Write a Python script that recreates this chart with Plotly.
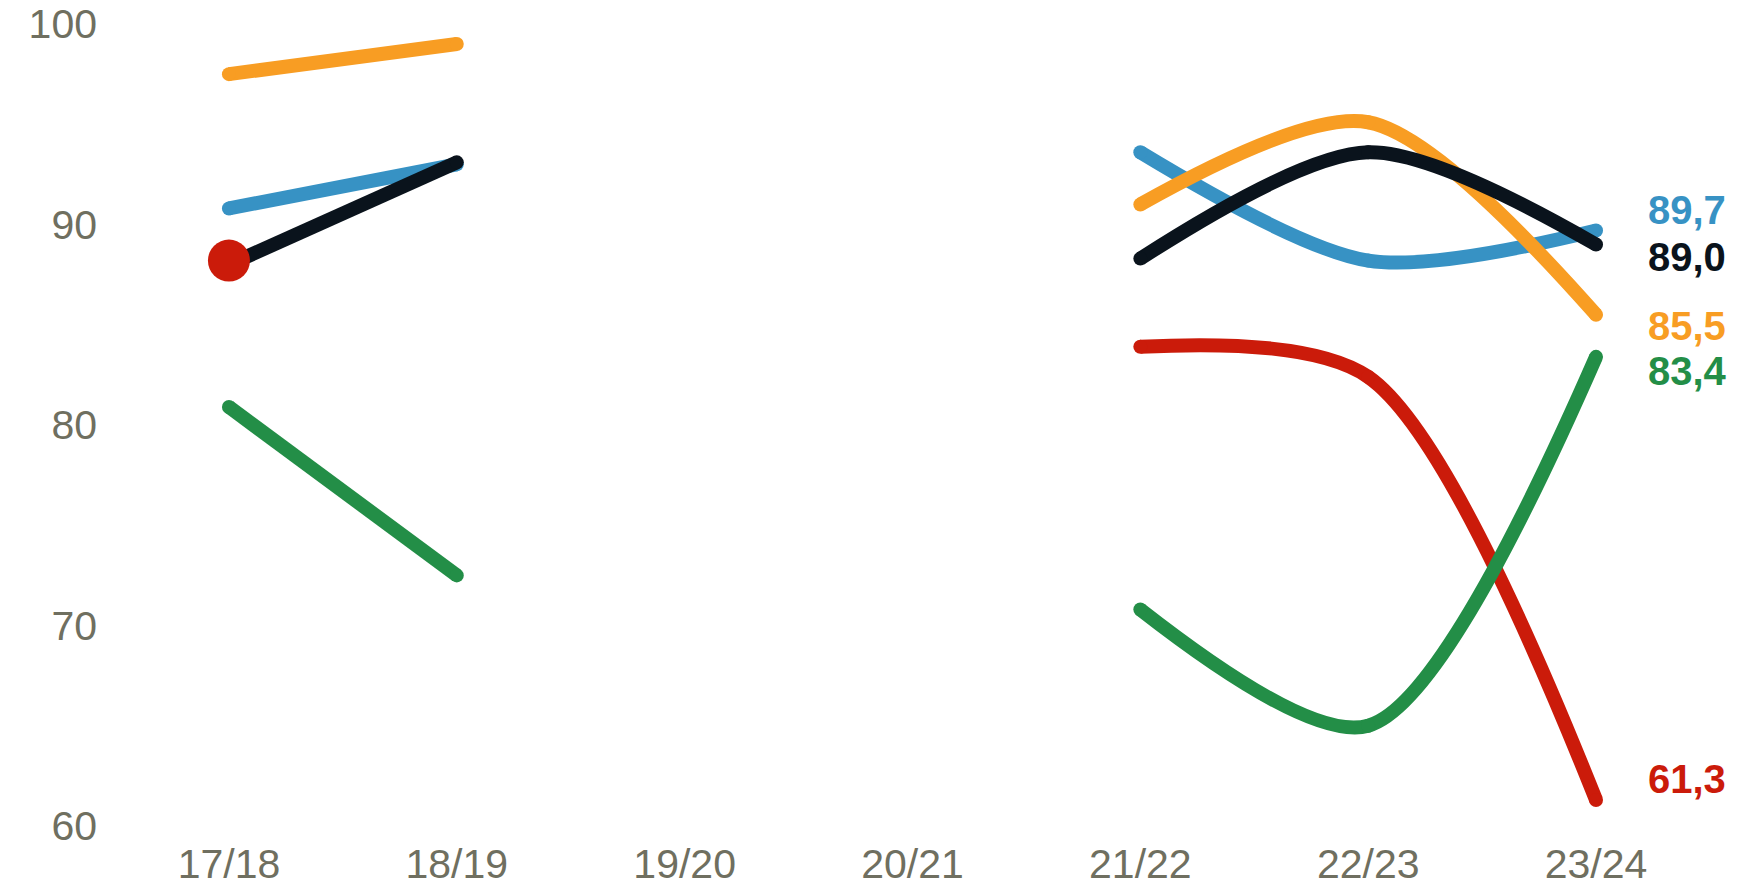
import plotly.graph_objects as go

categories = ["17/18", "18/19", "19/20", "20/21", "21/22", "22/23", "23/24"]

red_vals = [88.2, None, None, None, 83.9, 82.4, 61.3]
green_vals = [80.9, 72.5, None, None, 70.8, 65.0, 83.4]
blue_vals = [90.8, 93.0, None, None, 93.6, 88.2, 89.7]
orange_vals = [97.5, 99.0, None, None, 91.0, 95.1, 85.5]
black_vals = [88.0, 93.1, None, None, 88.3, 93.6, 89.0]

y_ticks = [60, 70, 80, 90, 100]

series = [
    ("red", red_vals, "#CB1B0A"),
    ("green", green_vals, "#238E47"),
    ("blue", blue_vals, "#3792C4"),
    ("orange", orange_vals, "#F89D23"),
    ("black", black_vals, "#0A131C"),
]
label_yshift = {"red": 21, "green": -14, "blue": 21, "orange": -11, "black": -12}

LW = 14
fig = go.Figure()
for name, vals, col in series:
    fig.add_trace(go.Scatter(
        x=categories, y=vals, mode="lines+markers", name=name,
        line=dict(color=col, width=LW, shape="spline", smoothing=0.85),
        marker=dict(color=col, size=LW, line=dict(width=0)),
        connectgaps=False, hoverinfo="skip", showlegend=False,
    ))

# isolated red point drawn as big dot
fig.add_trace(go.Scatter(
    x=[categories[0]], y=[red_vals[0]], mode="markers",
    marker=dict(color="#CB1B0A", size=42, line=dict(width=0)),
    hoverinfo="skip", showlegend=False,
))

for name, vals, col in series:
    v = vals[-1]
    fig.add_annotation(
        x=categories[-1], y=v, text=f"{v:.1f}".replace(".", ","),
        xanchor="left", yanchor="middle", xshift=50, yshift=label_yshift[name],
        showarrow=False,
        font=dict(family="Liberation Sans, Arial", size=40, color=col, weight="bold"),
    )

axis_font = dict(family="Liberation Sans, Arial", size=41, color="#6F6F60")
fig.update_layout(
    width=1722, height=879,
    margin=dict(l=102, r=90, t=16, b=61, autoexpand=False),
    paper_bgcolor="white", plot_bgcolor="white",
    xaxis=dict(type="category", range=[-0.522, 6.193], showgrid=False, zeroline=False,
               showline=False, ticks="", tickfont=axis_font, ticklabelstandoff=10,
               automargin=False, ticklabeloverflow="allow"),
    yaxis=dict(range=[60, 100], tickvals=y_ticks, showgrid=False, zeroline=False,
               showline=False, ticks="", tickfont=axis_font, ticklabelstandoff=12,
               automargin=False, ticklabeloverflow="allow"),
)

fig.write_html("out.html")
